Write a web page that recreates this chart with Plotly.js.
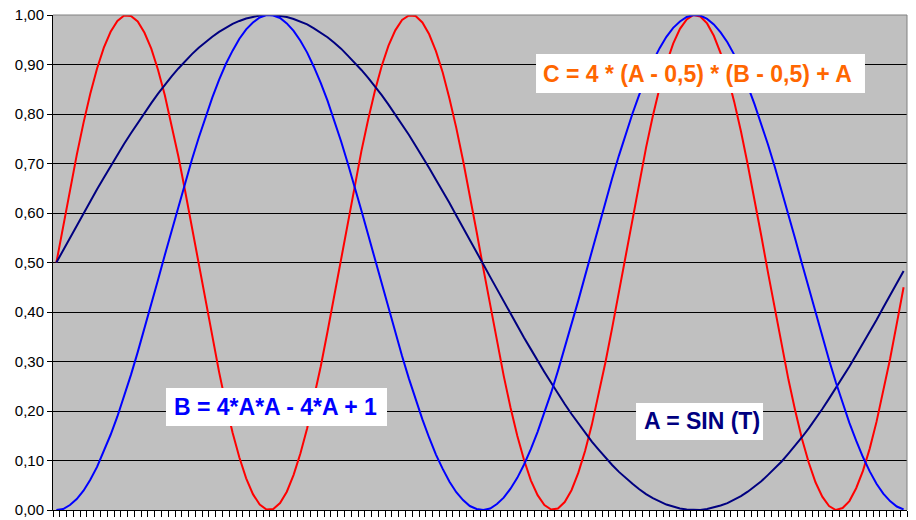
<!DOCTYPE html>
<html>
<head>
<meta charset="utf-8">
<script src="https://cdn.plot.ly/plotly-3.0.1.min.js"></script>
<style>
  html, body { margin: 0; padding: 0; background: #ffffff; }
  #chart { width: 916px; height: 520px; }
</style>
</head>
<body>
<div id="chart"></div>
<script>
// Series (126 points, T = 0 .. 6.25)
const seriesA = [
  0.500,0.525,0.550,0.575,0.599,0.624,0.648,0.671,0.695,0.717,
  0.740,0.761,0.782,0.803,0.822,0.841,0.859,0.876,0.892,0.907,
  0.921,0.934,0.946,0.956,0.966,0.974,0.982,0.988,0.993,0.996,
  0.999,1.000,1.000,0.998,0.996,0.992,0.987,0.981,0.973,0.964,
  0.955,0.944,0.932,0.918,0.904,0.889,0.873,0.856,0.838,0.819,
  0.799,0.779,0.758,0.736,0.714,0.691,0.667,0.644,0.620,0.595,
  0.571,0.546,0.521,0.496,0.471,0.446,0.421,0.397,0.372,0.348,
  0.325,0.301,0.279,0.257,0.235,0.214,0.194,0.175,0.156,0.138,
  0.122,0.106,0.091,0.077,0.064,0.053,0.042,0.032,0.024,0.017,
  0.011,0.007,0.003,0.001,0.000,0.000,0.002,0.005,0.009,0.014,
  0.021,0.028,0.037,0.047,0.058,0.071,0.084,0.098,0.114,0.130,
  0.147,0.165,0.184,0.204,0.225,0.246,0.268,0.290,0.313,0.336,
  0.360,0.384,0.409,0.434,0.458,0.483
];
const seriesB = [
  0.000,0.002,0.010,0.022,0.039,0.061,0.087,0.118,0.152,0.189,
  0.230,0.273,0.319,0.366,0.415,0.465,0.515,0.564,0.614,0.662,
  0.708,0.752,0.794,0.833,0.869,0.901,0.928,0.952,0.971,0.985,
  0.995,1.000,0.999,0.994,0.983,0.968,0.948,0.924,0.895,0.863,
  0.827,0.787,0.745,0.700,0.654,0.605,0.556,0.506,0.456,0.407,
  0.358,0.311,0.266,0.223,0.183,0.146,0.112,0.083,0.057,0.036,
  0.020,0.008,0.002,0.000,0.003,0.012,0.025,0.043,0.065,0.092,
  0.123,0.158,0.196,0.237,0.281,0.327,0.374,0.423,0.473,0.523,
  0.573,0.622,0.670,0.716,0.760,0.801,0.839,0.874,0.906,0.933,
  0.956,0.974,0.987,0.996,1.000,0.999,0.992,0.981,0.965,0.945,
  0.920,0.890,0.857,0.820,0.780,0.738,0.693,0.646,0.597,0.548,
  0.498,0.448,0.398,0.350,0.303,0.258,0.216,0.176,0.140,0.107,
  0.078,0.053,0.033,0.018,0.007,0.001
];
const seriesC = [
  0.500,0.575,0.648,0.717,0.782,0.841,0.892,0.934,0.966,0.988,
  0.999,0.998,0.987,0.964,0.932,0.889,0.838,0.779,0.714,0.644,
  0.571,0.496,0.421,0.348,0.279,0.214,0.156,0.106,0.064,0.032,
  0.011,0.001,0.002,0.014,0.037,0.071,0.114,0.165,0.225,0.290,
  0.360,0.434,0.508,0.583,0.656,0.725,0.789,0.847,0.897,0.938,
  0.969,0.990,0.999,0.998,0.985,0.961,0.927,0.884,0.831,0.772,
  0.706,0.636,0.562,0.487,0.413,0.340,0.271,0.207,0.150,0.101,
  0.060,0.030,0.010,0.001,0.003,0.016,0.040,0.075,0.119,0.172,
  0.232,0.298,0.368,0.442,0.517,0.591,0.664,0.732,0.796,0.853,
  0.902,0.942,0.972,0.991,1.000,0.997,0.983,0.958,0.923,0.878,
  0.825,0.765,0.698,0.628,0.554,0.479,0.405,0.332,0.264,0.201,
  0.144,0.096,0.056,0.027,0.008,0.000,0.004,0.018,0.044,0.079,
  0.124,0.178,0.239,0.305,0.377,0.450
];
const labelA = "A = SIN (T)";
const labelB = "B = 4*A*A - 4*A + 1";
const labelC = "C = 4 * (A - 0,5) * (B - 0,5) + A";

const idx = seriesA.map((_, i) => i);

const traces = [
  { x: idx, y: seriesC, type: 'scatter', mode: 'lines', line: { color: '#FF0000', width: 2 }, hoverinfo: 'skip' },
  { x: idx, y: seriesA, type: 'scatter', mode: 'lines', line: { color: '#000080', width: 2 }, hoverinfo: 'skip' },
  { x: idx, y: seriesB, type: 'scatter', mode: 'lines', line: { color: '#0000FF', width: 2 }, hoverinfo: 'skip' }
];

const boxFont = (c) => ({ family: 'Liberation Sans, Arial, sans-serif', size: 23, color: c, weight: 'bold' });
const box = (x0, x1, y0, y1) => ({ type: 'rect', xref: 'paper', yref: 'paper', x0, x1, y0, y1,
  fillcolor: '#FFFFFF', line: { width: 0 }, layer: 'above' });
const label = (text, x, y, c) => ({ text, xref: 'paper', yref: 'paper', x, y, xanchor: 'left', yanchor: 'middle',
  showarrow: false, borderpad: 0, font: boxFont(c) });

const layout = {
  width: 916, height: 520,
  margin: { l: 53, r: 9, t: 15, b: 10, pad: 0 },
  paper_bgcolor: '#FFFFFF',
  plot_bgcolor: '#C0C0C0',
  showlegend: false,
  separators: ', ',
  font: { family: 'Liberation Sans, Arial, sans-serif', size: 15, color: '#000000' },
  xaxis: {
    range: [-0.5, idx.length - 0.5],
    tickmode: 'linear', tick0: -0.5, dtick: 1,
    ticks: 'outside', ticklen: 6, tickcolor: '#000000', tickwidth: 1,
    showticklabels: false,
    showgrid: false, zeroline: false,
    showline: true, linecolor: '#000000', linewidth: 1
  },
  yaxis: {
    range: [0, 1],
    tickmode: 'linear', tick0: 0, dtick: 0.1,
    tickformat: '.2f',
    ticks: 'outside', ticklen: 5, tickcolor: '#000000', tickwidth: 1,
    showgrid: true, gridcolor: '#000000', gridwidth: 1,
    zeroline: false,
    showline: true, linecolor: '#000000', linewidth: 1,
    tickfont: { family: 'Liberation Sans, Arial, sans-serif', size: 15, color: '#000000' }
  },
  shapes: [
    { type: 'line', xref: 'paper', yref: 'paper', x0: 0, x1: 1, y0: 1, y1: 1, line: { color: '#808080', width: 1 }, layer: 'above' },
    { type: 'line', xref: 'paper', yref: 'paper', x0: 1, x1: 1, y0: 0, y1: 1, line: { color: '#808080', width: 1 }, layer: 'above' },
    box(0.5656, 0.9508, 0.8424, 0.9212),
    box(0.1323, 0.3911, 0.1697, 0.2465),
    box(0.6827, 0.8314, 0.1414, 0.2162)
  ],
  annotations: [
    label(labelC, 0.5722, 0.8818, '#FF6600'),
    label(labelB, 0.1402, 0.2081, '#0000FF'),
    label(labelA, 0.6905, 0.1788, '#000080')
  ]
};

Plotly.newPlot('chart', traces, layout, { staticPlot: true, displayModeBar: false });
</script>
</body>
</html>
